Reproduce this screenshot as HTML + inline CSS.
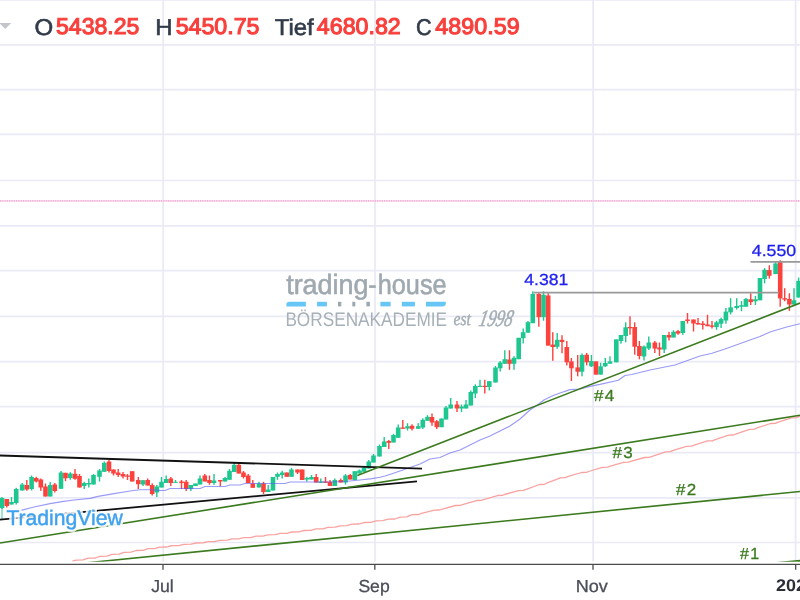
<!DOCTYPE html>
<html><head><meta charset="utf-8"><title>chart</title>
<style>html,body{margin:0;padding:0;background:#fff;overflow:hidden}svg{display:block;will-change:transform}text{font-family:"Liberation Sans",sans-serif;text-rendering:geometricPrecision}</style>
</head><body>
<svg width="800" height="600" viewBox="0 0 800 600">
<rect width="800" height="600" fill="#fff"/>
<g>
<g stroke="#eaeaf7" stroke-width="1.7">
<line x1="0" y1="-0.20" x2="800" y2="-0.20"/>
<line x1="0" y1="44.85" x2="800" y2="44.85"/>
<line x1="0" y1="89.60" x2="800" y2="89.60"/>
<line x1="0" y1="134.40" x2="800" y2="134.40"/>
<line x1="0" y1="180.50" x2="800" y2="180.50"/>
<line x1="0" y1="225.80" x2="800" y2="225.80"/>
<line x1="0" y1="270.65" x2="800" y2="270.65"/>
<line x1="0" y1="316.30" x2="800" y2="316.30"/>
<line x1="0" y1="361.70" x2="800" y2="361.70"/>
<line x1="0" y1="406.60" x2="800" y2="406.60"/>
<line x1="0" y1="452.60" x2="800" y2="452.60"/>
<line x1="0" y1="497.90" x2="800" y2="497.90"/>
<line x1="0" y1="542.50" x2="800" y2="542.50"/>
</g>
<g stroke="#eaeaf7" stroke-width="1.8">
<line x1="163.2" y1="0" x2="163.2" y2="561.7"/>
<line x1="375.0" y1="0" x2="375.0" y2="561.7"/>
<line x1="593.1" y1="0" x2="593.1" y2="561.7"/>
<line x1="795.6" y1="0" x2="795.6" y2="561.7"/>
</g>
<line x1="0" y1="200.9" x2="800" y2="200.9" stroke="#f9dcee" stroke-width="1.9"/>
<line x1="0" y1="200.9" x2="800" y2="200.9" stroke="#f1a4d2" stroke-opacity="0.8" stroke-width="1.9" stroke-dasharray="1.1 1.2"/>
<g id="wm">
<text x="286.18" y="294.1" font-size="28" fill="#9fa9b0" stroke="#9fa9b0" stroke-width="0.6" textLength="82.32" lengthAdjust="spacingAndGlyphs">trading</text>
<text x="368.4" y="294.1" font-size="28" fill="#9fa9b0" stroke="#9fa9b0" stroke-width="0.6" textLength="7.97" lengthAdjust="spacingAndGlyphs">-</text>
<text x="377.69" y="294.1" font-size="28" fill="#9fa9b0" stroke="#9fa9b0" stroke-width="0.6" textLength="68.95" lengthAdjust="spacingAndGlyphs">house</text>
<path d="M286.4,306.40000000000003 V304.40000000000003 Q286.4,301.8 289.4,301.8 H305.9 V306.40000000000003 Z" fill="#66c6f6"/>
<rect x="317.1" y="301.8" width="9.8" height="4.6" fill="#66c6f6"/>
<rect x="338" y="301.8" width="3.3" height="4.6" fill="#9ba8b0"/>
<rect x="352.3" y="301.8" width="3.0" height="4.6" fill="#9ba8b0"/>
<rect x="366.4" y="301.8" width="3.5" height="4.6" fill="#9ba8b0"/>
<rect x="380.4" y="301.8" width="10.2" height="4.6" fill="#66c6f6"/>
<rect x="401.8" y="301.8" width="13.1" height="4.6" fill="#66c6f6"/>
<path d="M426,301.8 H445.8 V303.6 Q445.8,306.40000000000003 442.6,306.40000000000003 H426 Z" fill="#66c6f6"/>
<text x="285.4" y="326.2" font-size="19.8" fill="#a6b0b6" textLength="161.6" lengthAdjust="spacingAndGlyphs">BÖRSENAKADEMIE</text>
<text x="453.5" y="325.3" font-size="19" font-style="italic" fill="#a3adb4" stroke="#a3adb4" stroke-width="0.4" textLength="17.5" lengthAdjust="spacingAndGlyphs" style="font-family:'Liberation Serif',serif">est</text>
<text transform="translate(478,326.2) skewX(-12)" font-size="23.5" font-style="italic" fill="#a3adb4" stroke="#a3adb4" stroke-width="0.55" textLength="33.5" lengthAdjust="spacingAndGlyphs" style="font-family:'Liberation Serif',serif">1998</text>
</g>
<polyline points="72.5,561.2 76.0,560.1 83.0,559.9 84.5,559.4 88.0,558.2 95.0,558.1 96.5,557.5 100.0,556.3 107.0,556.2 108.5,555.6 112.0,554.3 119.0,554.2 120.5,553.6 124.0,552.4 131.0,552.2 132.5,551.6 136.0,550.5 143.0,550.4 144.5,549.8 148.0,548.7 155.0,548.6 156.5,548.0 160.0,547.1 167.0,547.0 168.5,546.5 172.0,545.7 179.0,545.6 180.5,545.2 184.0,544.4 191.0,544.2 192.5,543.8 196.0,543.0 203.0,542.9 204.5,542.5 208.0,541.6 215.0,541.5 216.5,541.1 220.0,540.3 227.0,540.2 228.5,539.8 232.0,538.9 239.0,538.8 240.5,538.4 244.0,537.6 251.0,537.5 252.5,537.1 256.0,536.2 263.0,536.1 264.5,535.7 268.0,534.8 275.0,534.7 276.5,534.3 280.0,533.4 287.0,533.3 288.5,532.9 292.0,532.0 299.0,531.9 300.5,531.4 304.0,530.5 311.0,530.3 312.5,529.9 316.0,528.9 323.0,528.8 324.5,528.3 328.0,527.3 335.0,527.2 336.5,526.8 340.0,525.8 347.0,525.7 348.5,525.2 352.0,524.2 359.0,524.0 360.5,523.5 364.0,522.5 371.0,522.4 372.5,521.9 376.0,520.8 383.0,520.7 384.5,520.2 388.0,519.1 395.0,519.0 396.5,518.5 400.0,517.1 407.0,516.9 408.5,516.2 412.0,514.7 419.0,514.5 420.5,513.7 434.5,510.2 439.5,510.0 441.5,509.3 455.5,505.5 460.5,505.3 462.5,504.5 476.5,500.5 481.5,500.3 483.5,499.5 497.5,495.5 502.5,495.3 504.5,494.5 518.5,490.6 523.5,490.4 525.5,489.6 539.5,484.5 544.5,484.3 546.5,483.2 560.5,477.9 565.5,477.7 567.5,476.6 581.5,472.5 586.5,472.3 588.5,471.5 602.5,467.4 607.5,467.2 609.5,466.3 623.5,462.3 628.5,462.1 630.5,461.3 644.5,457.5 649.5,457.4 651.5,456.6 665.5,451.9 670.5,451.7 672.5,450.7 686.5,446.4 691.5,446.2 693.5,445.3 707.5,440.9 712.5,440.8 714.5,439.8 728.5,435.2 733.5,435.0 735.5,434.1 749.5,429.4 754.5,429.2 756.5,428.2 770.5,423.5 775.5,423.3 777.5,422.3 791.5,417.8 796.5,417.6 798.5,416.6 812.5,416.3 817.5,416.3 800.0,416.2" fill="none" stroke="#f9a3a0" stroke-width="1.3" stroke-linejoin="round"/>
<g id="candles">
<rect x="1.3" y="497.0" width="1.4" height="12.0" fill="#1ec690"/>
<rect x="-0.3" y="498.0" width="4.6" height="10.0" fill="#1ec690"/>
<rect x="6.1" y="499.0" width="1.4" height="8.5" fill="#fd413d"/>
<rect x="4.5" y="499.0" width="4.6" height="7.0" fill="#fd413d"/>
<rect x="10.8" y="497.0" width="1.4" height="7.5" fill="#1ec690"/>
<rect x="9.2" y="502.0" width="4.6" height="2.5" fill="#1ec690"/>
<rect x="15.5" y="487.8" width="1.4" height="16.7" fill="#1ec690"/>
<rect x="13.9" y="489.0" width="4.6" height="14.0" fill="#1ec690"/>
<rect x="21.5" y="483.0" width="1.4" height="7.5" fill="#1ec690"/>
<rect x="19.9" y="484.5" width="4.6" height="6.0" fill="#1ec690"/>
<rect x="26.1" y="480.0" width="1.4" height="10.8" fill="#fd413d"/>
<rect x="24.5" y="485.0" width="4.6" height="4.5" fill="#fd413d"/>
<rect x="30.9" y="475.5" width="1.4" height="15.0" fill="#1ec690"/>
<rect x="29.3" y="477.0" width="4.6" height="12.0" fill="#1ec690"/>
<rect x="35.5" y="476.8" width="1.4" height="5.7" fill="#fd413d"/>
<rect x="33.9" y="478.0" width="4.6" height="3.5" fill="#fd413d"/>
<rect x="40.1" y="478.5" width="1.4" height="12.3" fill="#fd413d"/>
<rect x="38.5" y="479.5" width="4.6" height="8.0" fill="#fd413d"/>
<rect x="44.8" y="483.5" width="1.4" height="13.0" fill="#fd413d"/>
<rect x="43.2" y="486.5" width="4.6" height="10.0" fill="#fd413d"/>
<rect x="49.5" y="482.0" width="1.4" height="14.5" fill="#1ec690"/>
<rect x="47.9" y="485.0" width="4.6" height="11.5" fill="#1ec690"/>
<rect x="54.1" y="483.0" width="1.4" height="9.5" fill="#fd413d"/>
<rect x="52.5" y="484.5" width="4.6" height="6.5" fill="#fd413d"/>
<rect x="60.3" y="471.0" width="1.4" height="17.8" fill="#1ec690"/>
<rect x="58.7" y="472.5" width="4.6" height="16.3" fill="#1ec690"/>
<rect x="64.8" y="472.8" width="1.4" height="8.4" fill="#fd413d"/>
<rect x="63.2" y="472.8" width="4.6" height="5.5" fill="#fd413d"/>
<rect x="69.6" y="472.2" width="1.4" height="7.6" fill="#1ec690"/>
<rect x="68.0" y="473.5" width="4.6" height="4.5" fill="#1ec690"/>
<rect x="74.3" y="469.1" width="1.4" height="10.7" fill="#fd413d"/>
<rect x="72.7" y="473.8" width="4.6" height="5.0" fill="#fd413d"/>
<rect x="78.8" y="474.0" width="1.4" height="13.5" fill="#fd413d"/>
<rect x="77.2" y="476.0" width="4.6" height="11.5" fill="#fd413d"/>
<rect x="83.5" y="481.8" width="1.4" height="7.2" fill="#1ec690"/>
<rect x="81.9" y="483.0" width="4.6" height="3.0" fill="#1ec690"/>
<rect x="88.1" y="478.5" width="1.4" height="9.0" fill="#1ec690"/>
<rect x="86.5" y="483.0" width="4.6" height="1.5" fill="#1ec690"/>
<rect x="92.8" y="474.0" width="1.4" height="10.5" fill="#1ec690"/>
<rect x="91.2" y="475.0" width="4.6" height="9.5" fill="#1ec690"/>
<rect x="98.8" y="469.0" width="1.4" height="12.5" fill="#1ec690"/>
<rect x="97.2" y="470.5" width="4.6" height="6.3" fill="#1ec690"/>
<rect x="103.6" y="461.5" width="1.4" height="10.3" fill="#1ec690"/>
<rect x="102.0" y="462.8" width="4.6" height="9.0" fill="#1ec690"/>
<rect x="108.3" y="460.0" width="1.4" height="12.5" fill="#fd413d"/>
<rect x="106.7" y="461.5" width="4.6" height="9.5" fill="#fd413d"/>
<rect x="112.8" y="469.5" width="1.4" height="6.0" fill="#fd413d"/>
<rect x="111.2" y="469.5" width="4.6" height="4.0" fill="#fd413d"/>
<rect x="117.5" y="469.0" width="1.4" height="8.0" fill="#fd413d"/>
<rect x="115.9" y="472.5" width="4.6" height="2.5" fill="#fd413d"/>
<rect x="122.3" y="472.0" width="1.4" height="6.5" fill="#fd413d"/>
<rect x="120.7" y="474.0" width="4.6" height="2.5" fill="#fd413d"/>
<rect x="126.8" y="474.0" width="1.4" height="6.0" fill="#fd413d"/>
<rect x="125.2" y="475.5" width="4.6" height="1.3" fill="#fd413d"/>
<rect x="131.5" y="471.2" width="1.4" height="10.3" fill="#fd413d"/>
<rect x="129.9" y="471.2" width="4.6" height="10.3" fill="#fd413d"/>
<rect x="137.6" y="477.0" width="1.4" height="12.0" fill="#fd413d"/>
<rect x="136.0" y="480.0" width="4.6" height="4.2" fill="#fd413d"/>
<rect x="142.3" y="480.2" width="1.4" height="5.8" fill="#1ec690"/>
<rect x="140.7" y="480.2" width="4.6" height="4.3" fill="#1ec690"/>
<rect x="147.0" y="478.5" width="1.4" height="7.0" fill="#fd413d"/>
<rect x="145.4" y="480.0" width="4.6" height="5.5" fill="#fd413d"/>
<rect x="151.5" y="483.3" width="1.4" height="12.2" fill="#fd413d"/>
<rect x="149.9" y="485.0" width="4.6" height="9.0" fill="#fd413d"/>
<rect x="156.1" y="485.0" width="1.4" height="12.0" fill="#1ec690"/>
<rect x="154.5" y="486.5" width="4.6" height="6.0" fill="#1ec690"/>
<rect x="160.8" y="477.0" width="1.4" height="10.5" fill="#1ec690"/>
<rect x="159.2" y="481.8" width="4.6" height="5.7" fill="#1ec690"/>
<rect x="165.5" y="475.5" width="1.4" height="7.5" fill="#1ec690"/>
<rect x="163.9" y="479.0" width="4.6" height="4.0" fill="#1ec690"/>
<rect x="170.1" y="477.0" width="1.4" height="9.0" fill="#fd413d"/>
<rect x="168.5" y="478.5" width="4.6" height="4.5" fill="#fd413d"/>
<rect x="174.8" y="480.0" width="1.4" height="2.8" fill="#1ec690"/>
<rect x="173.2" y="481.8" width="4.6" height="1.0" fill="#1ec690"/>
<rect x="180.8" y="480.0" width="1.4" height="9.0" fill="#fd413d"/>
<rect x="179.2" y="481.5" width="4.6" height="1.5" fill="#fd413d"/>
<rect x="185.5" y="480.0" width="1.4" height="11.0" fill="#fd413d"/>
<rect x="183.9" y="481.8" width="4.6" height="7.2" fill="#fd413d"/>
<rect x="190.1" y="485.0" width="1.4" height="6.0" fill="#1ec690"/>
<rect x="188.5" y="485.0" width="4.6" height="4.0" fill="#1ec690"/>
<rect x="194.8" y="483.5" width="1.4" height="2.5" fill="#1ec690"/>
<rect x="193.2" y="483.5" width="4.6" height="2.5" fill="#1ec690"/>
<rect x="199.3" y="475.5" width="1.4" height="9.0" fill="#1ec690"/>
<rect x="197.7" y="478.5" width="4.6" height="6.0" fill="#1ec690"/>
<rect x="204.1" y="474.0" width="1.4" height="7.5" fill="#fd413d"/>
<rect x="202.5" y="475.5" width="4.6" height="6.0" fill="#fd413d"/>
<rect x="208.8" y="475.5" width="1.4" height="9.3" fill="#fd413d"/>
<rect x="207.2" y="480.0" width="4.6" height="3.0" fill="#fd413d"/>
<rect x="213.3" y="474.0" width="1.4" height="10.8" fill="#1ec690"/>
<rect x="211.7" y="480.5" width="4.6" height="2.5" fill="#1ec690"/>
<rect x="219.6" y="480.0" width="1.4" height="6.0" fill="#fd413d"/>
<rect x="218.0" y="480.0" width="4.6" height="1.5" fill="#fd413d"/>
<rect x="224.3" y="477.0" width="1.4" height="4.5" fill="#1ec690"/>
<rect x="222.7" y="478.0" width="4.6" height="3.5" fill="#1ec690"/>
<rect x="228.8" y="469.0" width="1.4" height="10.8" fill="#1ec690"/>
<rect x="227.2" y="470.8" width="4.6" height="9.0" fill="#1ec690"/>
<rect x="233.5" y="463.0" width="1.4" height="9.0" fill="#1ec690"/>
<rect x="231.9" y="464.8" width="4.6" height="7.2" fill="#1ec690"/>
<rect x="238.1" y="463.0" width="1.4" height="10.5" fill="#fd413d"/>
<rect x="236.5" y="464.8" width="4.6" height="8.7" fill="#fd413d"/>
<rect x="242.8" y="471.0" width="1.4" height="7.5" fill="#fd413d"/>
<rect x="241.2" y="472.5" width="4.6" height="4.5" fill="#fd413d"/>
<rect x="247.5" y="474.0" width="1.4" height="9.0" fill="#fd413d"/>
<rect x="245.9" y="475.5" width="4.6" height="7.5" fill="#fd413d"/>
<rect x="252.1" y="480.0" width="1.4" height="7.8" fill="#fd413d"/>
<rect x="250.5" y="483.5" width="4.6" height="4.3" fill="#fd413d"/>
<rect x="258.3" y="481.8" width="1.4" height="5.7" fill="#1ec690"/>
<rect x="256.7" y="483.5" width="4.6" height="4.0" fill="#1ec690"/>
<rect x="262.8" y="481.8" width="1.4" height="12.2" fill="#fd413d"/>
<rect x="261.2" y="483.5" width="4.6" height="8.5" fill="#fd413d"/>
<rect x="267.5" y="485.0" width="1.4" height="7.0" fill="#1ec690"/>
<rect x="265.9" y="489.5" width="4.6" height="2.5" fill="#1ec690"/>
<rect x="272.3" y="477.0" width="1.4" height="13.5" fill="#1ec690"/>
<rect x="270.7" y="477.0" width="4.6" height="13.5" fill="#1ec690"/>
<rect x="276.8" y="472.5" width="1.4" height="7.3" fill="#1ec690"/>
<rect x="275.2" y="474.0" width="4.6" height="2.8" fill="#1ec690"/>
<rect x="281.5" y="470.8" width="1.4" height="7.7" fill="#1ec690"/>
<rect x="279.9" y="472.5" width="4.6" height="2.5" fill="#1ec690"/>
<rect x="286.1" y="472.5" width="1.4" height="4.3" fill="#fd413d"/>
<rect x="284.5" y="472.5" width="4.6" height="4.3" fill="#fd413d"/>
<rect x="290.8" y="467.8" width="1.4" height="9.0" fill="#1ec690"/>
<rect x="289.2" y="469.5" width="4.6" height="7.3" fill="#1ec690"/>
<rect x="296.8" y="469.5" width="1.4" height="4.5" fill="#fd413d"/>
<rect x="295.2" y="469.5" width="4.6" height="3.0" fill="#fd413d"/>
<rect x="301.5" y="469.5" width="1.4" height="10.5" fill="#fd413d"/>
<rect x="299.9" y="469.5" width="4.6" height="10.5" fill="#fd413d"/>
<rect x="306.1" y="476.8" width="1.4" height="4.7" fill="#1ec690"/>
<rect x="304.5" y="478.0" width="4.6" height="1.5" fill="#1ec690"/>
<rect x="310.8" y="475.0" width="1.4" height="4.5" fill="#1ec690"/>
<rect x="309.2" y="477.0" width="4.6" height="2.5" fill="#1ec690"/>
<rect x="315.5" y="474.0" width="1.4" height="8.5" fill="#fd413d"/>
<rect x="313.9" y="477.0" width="4.6" height="5.5" fill="#fd413d"/>
<rect x="320.1" y="478.5" width="1.4" height="4.3" fill="#1ec690"/>
<rect x="318.5" y="481.5" width="4.6" height="1.3" fill="#1ec690"/>
<rect x="324.8" y="477.0" width="1.4" height="5.8" fill="#fd413d"/>
<rect x="323.2" y="481.5" width="4.6" height="1.3" fill="#fd413d"/>
<rect x="329.3" y="480.0" width="1.4" height="6.0" fill="#fd413d"/>
<rect x="327.7" y="481.8" width="4.6" height="4.2" fill="#fd413d"/>
<rect x="334.1" y="478.5" width="1.4" height="7.5" fill="#1ec690"/>
<rect x="332.5" y="480.0" width="4.6" height="6.0" fill="#1ec690"/>
<rect x="340.1" y="478.5" width="1.4" height="4.0" fill="#fd413d"/>
<rect x="338.5" y="480.0" width="4.6" height="2.5" fill="#fd413d"/>
<rect x="344.8" y="474.0" width="1.4" height="10.5" fill="#1ec690"/>
<rect x="343.2" y="475.5" width="4.6" height="7.0" fill="#1ec690"/>
<rect x="349.5" y="474.0" width="1.4" height="5.5" fill="#fd413d"/>
<rect x="347.9" y="475.0" width="4.6" height="4.5" fill="#fd413d"/>
<rect x="354.1" y="471.2" width="1.4" height="8.8" fill="#1ec690"/>
<rect x="352.5" y="471.2" width="4.6" height="8.8" fill="#1ec690"/>
<rect x="358.8" y="469.5" width="1.4" height="4.0" fill="#1ec690"/>
<rect x="357.2" y="470.5" width="4.6" height="3.0" fill="#1ec690"/>
<rect x="363.3" y="466.2" width="1.4" height="5.6" fill="#1ec690"/>
<rect x="361.7" y="467.5" width="4.6" height="4.3" fill="#1ec690"/>
<rect x="368.1" y="460.0" width="1.4" height="8.5" fill="#1ec690"/>
<rect x="366.5" y="461.5" width="4.6" height="7.0" fill="#1ec690"/>
<rect x="372.8" y="454.0" width="1.4" height="8.5" fill="#1ec690"/>
<rect x="371.2" y="455.5" width="4.6" height="7.0" fill="#1ec690"/>
<rect x="378.8" y="444.5" width="1.4" height="12.0" fill="#1ec690"/>
<rect x="377.2" y="446.0" width="4.6" height="10.5" fill="#1ec690"/>
<rect x="383.5" y="437.0" width="1.4" height="10.0" fill="#1ec690"/>
<rect x="381.9" y="441.5" width="4.6" height="5.5" fill="#1ec690"/>
<rect x="388.1" y="440.0" width="1.4" height="9.0" fill="#fd413d"/>
<rect x="386.5" y="441.0" width="4.6" height="1.8" fill="#fd413d"/>
<rect x="392.8" y="433.8" width="1.4" height="8.7" fill="#1ec690"/>
<rect x="391.2" y="435.0" width="4.6" height="7.5" fill="#1ec690"/>
<rect x="397.5" y="424.5" width="1.4" height="13.3" fill="#1ec690"/>
<rect x="395.9" y="427.5" width="4.6" height="10.3" fill="#1ec690"/>
<rect x="402.1" y="420.0" width="1.4" height="8.8" fill="#fd413d"/>
<rect x="400.5" y="427.5" width="4.6" height="1.3" fill="#fd413d"/>
<rect x="406.8" y="423.2" width="1.4" height="7.3" fill="#1ec690"/>
<rect x="405.2" y="426.2" width="4.6" height="2.3" fill="#1ec690"/>
<rect x="411.3" y="424.3" width="1.4" height="6.2" fill="#fd413d"/>
<rect x="409.7" y="425.8" width="4.6" height="3.0" fill="#fd413d"/>
<rect x="417.5" y="423.2" width="1.4" height="5.6" fill="#1ec690"/>
<rect x="415.9" y="426.2" width="4.6" height="2.6" fill="#1ec690"/>
<rect x="422.1" y="418.3" width="1.4" height="10.7" fill="#1ec690"/>
<rect x="420.5" y="419.8" width="4.6" height="7.7" fill="#1ec690"/>
<rect x="426.8" y="415.2" width="1.4" height="5.6" fill="#1ec690"/>
<rect x="425.2" y="416.8" width="4.6" height="4.0" fill="#1ec690"/>
<rect x="431.3" y="413.5" width="1.4" height="12.3" fill="#fd413d"/>
<rect x="429.7" y="417.0" width="4.6" height="5.5" fill="#fd413d"/>
<rect x="436.1" y="420.0" width="1.4" height="9.0" fill="#fd413d"/>
<rect x="434.5" y="421.2" width="4.6" height="6.0" fill="#fd413d"/>
<rect x="440.8" y="418.5" width="1.4" height="8.7" fill="#1ec690"/>
<rect x="439.2" y="418.5" width="4.6" height="8.7" fill="#1ec690"/>
<rect x="445.3" y="406.0" width="1.4" height="13.5" fill="#1ec690"/>
<rect x="443.7" y="407.5" width="4.6" height="12.0" fill="#1ec690"/>
<rect x="450.0" y="398.0" width="1.4" height="10.5" fill="#1ec690"/>
<rect x="448.4" y="404.5" width="4.6" height="4.0" fill="#1ec690"/>
<rect x="456.3" y="401.0" width="1.4" height="11.0" fill="#fd413d"/>
<rect x="454.7" y="404.5" width="4.6" height="4.0" fill="#fd413d"/>
<rect x="460.8" y="404.5" width="1.4" height="7.5" fill="#1ec690"/>
<rect x="459.2" y="406.5" width="4.6" height="2.0" fill="#1ec690"/>
<rect x="465.3" y="400.0" width="1.4" height="8.5" fill="#1ec690"/>
<rect x="463.7" y="404.5" width="4.6" height="4.0" fill="#1ec690"/>
<rect x="470.1" y="390.5" width="1.4" height="15.0" fill="#1ec690"/>
<rect x="468.5" y="392.0" width="4.6" height="13.5" fill="#1ec690"/>
<rect x="474.6" y="384.3" width="1.4" height="13.7" fill="#1ec690"/>
<rect x="473.0" y="386.0" width="4.6" height="7.5" fill="#1ec690"/>
<rect x="479.3" y="379.8" width="1.4" height="7.2" fill="#1ec690"/>
<rect x="477.7" y="385.8" width="4.6" height="1.2" fill="#1ec690"/>
<rect x="484.1" y="379.8" width="1.4" height="13.7" fill="#fd413d"/>
<rect x="482.5" y="385.8" width="4.6" height="1.2" fill="#fd413d"/>
<rect x="488.6" y="381.2" width="1.4" height="9.3" fill="#1ec690"/>
<rect x="487.0" y="381.2" width="4.6" height="5.8" fill="#1ec690"/>
<rect x="494.8" y="366.0" width="1.4" height="16.5" fill="#1ec690"/>
<rect x="493.2" y="367.5" width="4.6" height="15.0" fill="#1ec690"/>
<rect x="499.5" y="361.0" width="1.4" height="10.5" fill="#1ec690"/>
<rect x="497.9" y="362.5" width="4.6" height="5.8" fill="#1ec690"/>
<rect x="504.1" y="350.2" width="1.4" height="13.6" fill="#1ec690"/>
<rect x="502.5" y="359.2" width="4.6" height="4.6" fill="#1ec690"/>
<rect x="508.8" y="350.2" width="1.4" height="19.6" fill="#fd413d"/>
<rect x="507.2" y="359.5" width="4.6" height="4.3" fill="#fd413d"/>
<rect x="513.3" y="356.2" width="1.4" height="13.6" fill="#1ec690"/>
<rect x="511.7" y="357.8" width="4.6" height="6.0" fill="#1ec690"/>
<rect x="518.0" y="337.8" width="1.4" height="21.4" fill="#1ec690"/>
<rect x="516.4" y="337.8" width="4.6" height="21.4" fill="#1ec690"/>
<rect x="522.5" y="328.5" width="1.4" height="15.0" fill="#1ec690"/>
<rect x="520.9" y="332.2" width="4.6" height="6.0" fill="#1ec690"/>
<rect x="527.3" y="321.0" width="1.4" height="11.7" fill="#1ec690"/>
<rect x="525.7" y="322.2" width="4.6" height="10.5" fill="#1ec690"/>
<rect x="532.1" y="291.3" width="1.4" height="31.9" fill="#1ec690"/>
<rect x="530.5" y="294.0" width="4.6" height="29.2" fill="#1ec690"/>
<rect x="538.1" y="292.5" width="1.4" height="34.2" fill="#fd413d"/>
<rect x="536.5" y="294.0" width="4.6" height="23.2" fill="#fd413d"/>
<rect x="542.8" y="291.3" width="1.4" height="29.4" fill="#1ec690"/>
<rect x="541.2" y="294.8" width="4.6" height="22.4" fill="#1ec690"/>
<rect x="547.5" y="293.2" width="1.4" height="52.4" fill="#fd413d"/>
<rect x="545.9" y="295.5" width="4.6" height="50.1" fill="#fd413d"/>
<rect x="552.1" y="332.2" width="1.4" height="28.6" fill="#fd413d"/>
<rect x="550.5" y="344.6" width="4.6" height="2.4" fill="#fd413d"/>
<rect x="556.5" y="333.0" width="1.4" height="15.8" fill="#1ec690"/>
<rect x="554.9" y="339.8" width="4.6" height="7.0" fill="#1ec690"/>
<rect x="561.3" y="335.2" width="1.4" height="18.0" fill="#fd413d"/>
<rect x="559.7" y="339.8" width="4.6" height="2.2" fill="#fd413d"/>
<rect x="566.1" y="341.0" width="1.4" height="24.4" fill="#fd413d"/>
<rect x="564.5" y="347.0" width="4.6" height="15.3" fill="#fd413d"/>
<rect x="570.7" y="358.0" width="1.4" height="23.0" fill="#fd413d"/>
<rect x="569.1" y="361.4" width="4.6" height="6.9" fill="#fd413d"/>
<rect x="577.0" y="355.0" width="1.4" height="21.3" fill="#fd413d"/>
<rect x="575.4" y="367.4" width="4.6" height="4.3" fill="#fd413d"/>
<rect x="581.3" y="353.4" width="1.4" height="22.9" fill="#1ec690"/>
<rect x="579.7" y="355.0" width="4.6" height="16.7" fill="#1ec690"/>
<rect x="586.0" y="353.0" width="1.4" height="12.4" fill="#fd413d"/>
<rect x="584.4" y="354.7" width="4.6" height="7.6" fill="#fd413d"/>
<rect x="590.7" y="355.0" width="1.4" height="12.0" fill="#1ec690"/>
<rect x="589.1" y="361.0" width="4.6" height="5.3" fill="#1ec690"/>
<rect x="595.3" y="361.4" width="1.4" height="13.2" fill="#fd413d"/>
<rect x="593.7" y="361.4" width="4.6" height="13.2" fill="#fd413d"/>
<rect x="599.9" y="362.7" width="1.4" height="11.9" fill="#1ec690"/>
<rect x="598.3" y="366.3" width="4.6" height="8.3" fill="#1ec690"/>
<rect x="604.6" y="358.0" width="1.4" height="9.0" fill="#1ec690"/>
<rect x="603.0" y="363.0" width="4.6" height="3.3" fill="#1ec690"/>
<rect x="609.3" y="356.3" width="1.4" height="7.4" fill="#1ec690"/>
<rect x="607.7" y="361.4" width="4.6" height="2.3" fill="#1ec690"/>
<rect x="615.6" y="339.4" width="1.4" height="22.9" fill="#1ec690"/>
<rect x="614.0" y="339.4" width="4.6" height="22.9" fill="#1ec690"/>
<rect x="620.3" y="335.0" width="1.4" height="8.7" fill="#1ec690"/>
<rect x="618.7" y="335.0" width="4.6" height="6.0" fill="#1ec690"/>
<rect x="625.0" y="322.3" width="1.4" height="20.0" fill="#1ec690"/>
<rect x="623.4" y="327.3" width="4.6" height="8.7" fill="#1ec690"/>
<rect x="629.3" y="316.3" width="1.4" height="18.4" fill="#fd413d"/>
<rect x="627.7" y="327.0" width="4.6" height="1.3" fill="#fd413d"/>
<rect x="634.0" y="322.3" width="1.4" height="32.4" fill="#fd413d"/>
<rect x="632.4" y="327.0" width="4.6" height="19.7" fill="#fd413d"/>
<rect x="638.7" y="341.0" width="1.4" height="18.3" fill="#fd413d"/>
<rect x="637.1" y="346.0" width="4.6" height="10.0" fill="#fd413d"/>
<rect x="643.3" y="345.5" width="1.4" height="15.0" fill="#1ec690"/>
<rect x="641.7" y="346.5" width="4.6" height="10.0" fill="#1ec690"/>
<rect x="648.1" y="336.5" width="1.4" height="13.5" fill="#1ec690"/>
<rect x="646.5" y="342.5" width="4.6" height="6.0" fill="#1ec690"/>
<rect x="654.1" y="341.0" width="1.4" height="12.0" fill="#fd413d"/>
<rect x="652.5" y="342.5" width="4.6" height="6.0" fill="#fd413d"/>
<rect x="658.8" y="342.5" width="1.4" height="13.5" fill="#fd413d"/>
<rect x="657.2" y="347.5" width="4.6" height="2.0" fill="#fd413d"/>
<rect x="663.5" y="335.0" width="1.4" height="18.0" fill="#1ec690"/>
<rect x="661.9" y="335.0" width="4.6" height="14.5" fill="#1ec690"/>
<rect x="668.3" y="331.8" width="1.4" height="8.7" fill="#fd413d"/>
<rect x="666.7" y="335.0" width="4.6" height="2.5" fill="#fd413d"/>
<rect x="672.8" y="330.2" width="1.4" height="7.3" fill="#1ec690"/>
<rect x="671.2" y="331.8" width="4.6" height="5.7" fill="#1ec690"/>
<rect x="677.3" y="330.0" width="1.4" height="4.8" fill="#fd413d"/>
<rect x="675.7" y="331.2" width="4.6" height="2.3" fill="#fd413d"/>
<rect x="682.1" y="321.0" width="1.4" height="13.8" fill="#1ec690"/>
<rect x="680.5" y="321.0" width="4.6" height="12.0" fill="#1ec690"/>
<rect x="686.8" y="313.0" width="1.4" height="10.5" fill="#fd413d"/>
<rect x="685.2" y="319.5" width="4.6" height="1.5" fill="#fd413d"/>
<rect x="692.8" y="319.5" width="1.4" height="12.0" fill="#fd413d"/>
<rect x="691.2" y="319.5" width="4.6" height="4.0" fill="#fd413d"/>
<rect x="697.3" y="318.0" width="1.4" height="6.5" fill="#fd413d"/>
<rect x="695.7" y="323.0" width="4.6" height="1.5" fill="#fd413d"/>
<rect x="702.1" y="321.0" width="1.4" height="8.5" fill="#fd413d"/>
<rect x="700.5" y="323.5" width="4.6" height="1.5" fill="#fd413d"/>
<rect x="706.8" y="314.8" width="1.4" height="11.4" fill="#fd413d"/>
<rect x="705.2" y="324.5" width="4.6" height="1.7" fill="#fd413d"/>
<rect x="711.3" y="321.0" width="1.4" height="7.5" fill="#fd413d"/>
<rect x="709.7" y="325.5" width="4.6" height="1.3" fill="#fd413d"/>
<rect x="715.8" y="320.8" width="1.4" height="9.0" fill="#1ec690"/>
<rect x="714.2" y="322.3" width="4.6" height="4.8" fill="#1ec690"/>
<rect x="720.4" y="317.7" width="1.4" height="10.3" fill="#1ec690"/>
<rect x="718.8" y="319.1" width="4.6" height="4.6" fill="#1ec690"/>
<rect x="725.2" y="308.0" width="1.4" height="15.7" fill="#1ec690"/>
<rect x="723.6" y="311.6" width="4.6" height="8.9" fill="#1ec690"/>
<rect x="729.9" y="298.2" width="1.4" height="16.3" fill="#1ec690"/>
<rect x="728.3" y="307.4" width="4.6" height="4.9" fill="#1ec690"/>
<rect x="736.0" y="298.2" width="1.4" height="11.3" fill="#1ec690"/>
<rect x="734.4" y="306.0" width="4.6" height="2.0" fill="#1ec690"/>
<rect x="740.8" y="301.0" width="1.4" height="10.2" fill="#1ec690"/>
<rect x="739.2" y="305.2" width="4.6" height="1.5" fill="#1ec690"/>
<rect x="745.2" y="297.9" width="1.4" height="8.8" fill="#1ec690"/>
<rect x="743.6" y="298.9" width="4.6" height="7.8" fill="#1ec690"/>
<rect x="750.0" y="293.2" width="1.4" height="11.8" fill="#fd413d"/>
<rect x="748.4" y="299.3" width="4.6" height="2.8" fill="#fd413d"/>
<rect x="754.7" y="296.0" width="1.4" height="9.0" fill="#1ec690"/>
<rect x="753.1" y="299.3" width="4.6" height="2.0" fill="#1ec690"/>
<rect x="759.3" y="278.0" width="1.4" height="22.3" fill="#1ec690"/>
<rect x="757.7" y="278.0" width="4.6" height="22.3" fill="#1ec690"/>
<rect x="763.9" y="268.1" width="1.4" height="15.2" fill="#1ec690"/>
<rect x="762.3" y="269.8" width="4.6" height="9.2" fill="#1ec690"/>
<rect x="768.6" y="265.3" width="1.4" height="13.3" fill="#fd413d"/>
<rect x="767.0" y="270.1" width="4.6" height="5.7" fill="#fd413d"/>
<rect x="774.9" y="262.0" width="1.4" height="12.1" fill="#1ec690"/>
<rect x="773.3" y="263.5" width="4.6" height="10.6" fill="#1ec690"/>
<rect x="779.5" y="260.2" width="1.4" height="46.5" fill="#fd413d"/>
<rect x="777.9" y="262.0" width="4.6" height="36.4" fill="#fd413d"/>
<rect x="784.0" y="288.2" width="1.4" height="13.1" fill="#fd413d"/>
<rect x="782.4" y="298.2" width="4.6" height="1.4" fill="#fd413d"/>
<rect x="788.7" y="293.2" width="1.4" height="17.7" fill="#fd413d"/>
<rect x="787.1" y="298.9" width="4.6" height="5.6" fill="#fd413d"/>
<rect x="793.3" y="288.2" width="1.4" height="16.3" fill="#1ec690"/>
<rect x="791.7" y="300.3" width="4.6" height="4.2" fill="#1ec690"/>
<rect x="797.9" y="277.6" width="1.4" height="19.9" fill="#1ec690"/>
<rect x="796.3" y="280.9" width="4.6" height="16.6" fill="#1ec690"/>
<rect x="1.5" y="508" width="1" height="12" fill="#1ec690" opacity="0.85"/>
<rect x="6.3" y="507" width="1" height="7" fill="#fd413d" opacity="0.3"/>
</g>
<polyline points="19.0,510.9 21.0,510.4 34.0,507.0 50.0,503.6 62.0,501.6 74.0,500.0 90.0,498.4 98.0,496.4 114.0,493.6 130.0,491.0 140.0,489.7 150.0,489.8 160.0,490.4 165.0,490.5 170.0,488.5 200.0,488.5 205.0,486.5 225.0,486.5 230.0,485.0 240.0,485.0 245.0,483.5 285.0,483.5 290.0,482.0 330.0,482.0 345.0,481.5 360.0,480.0 372.0,478.6 380.0,477.2 385.0,476.0 392.0,473.7 400.0,471.0 420.0,464.0 430.0,459.0 440.0,457.5 450.0,453.0 460.0,450.0 470.0,445.0 480.0,440.0 490.0,436.0 500.0,431.0 510.0,426.0 520.0,419.0 530.0,410.0 536.0,406.0 544.0,400.0 552.0,396.0 560.0,393.0 570.0,389.6 580.0,389.0 590.0,386.4 600.0,384.4 618.3,380.3 625.0,375.5 631.7,374.5 650.0,370.0 675.0,365.0 700.0,356.0 712.0,353.3 725.0,349.0 750.0,340.0 760.0,336.5 770.0,332.0 787.5,326.8 800.0,323.7" fill="none" stroke="#5c5cf2" stroke-opacity="0.62" stroke-width="1.15" stroke-linejoin="round"/>
<line x1="0" y1="455.5" x2="422" y2="468.7" stroke="#111" stroke-width="1.8"/>
<line x1="0" y1="519.7" x2="417" y2="481.3" stroke="#111" stroke-width="1.8"/>
<line x1="533.5" y1="292.55" x2="779" y2="292.55" stroke="#999" stroke-width="1.7"/>
<line x1="750.5" y1="261.85" x2="800" y2="261.85" stroke="#999" stroke-width="1.7"/>
<line x1="357.3" y1="475.4" x2="800" y2="303.1" stroke="#3b7a1e" stroke-width="1.6"/>
<line x1="0" y1="543.0" x2="800" y2="415.3" stroke="#3b7a1e" stroke-width="1.6"/>
<line x1="70" y1="564.5" x2="800" y2="491.5" stroke="#3b7a1e" stroke-width="1.6"/>
<polygon points="776.4,562 800,559.7 800,562" fill="#3b7a1e"/>
<text x="524.3" y="285.1" font-size="16" fill="#1f1ff0" textLength="44.0" lengthAdjust="spacingAndGlyphs" stroke="#1f1ff0" stroke-width="0.3">4.381</text>
<text x="751.8" y="256.2" font-size="16" fill="#1f1ff0" textLength="44.3" lengthAdjust="spacingAndGlyphs" stroke="#1f1ff0" stroke-width="0.3">4.550</text>
<text x="593.9" y="401.2" font-size="16" fill="#3b7a1e" textLength="20.4" lengthAdjust="spacingAndGlyphs" stroke="#3b7a1e" stroke-width="0.3">#&#8202;4</text>
<text x="612.5" y="458.2" font-size="16" fill="#3b7a1e" textLength="20.3" lengthAdjust="spacingAndGlyphs" stroke="#3b7a1e" stroke-width="0.3">#&#8202;3</text>
<text x="675.9" y="495.1" font-size="16" fill="#3b7a1e" textLength="20.2" lengthAdjust="spacingAndGlyphs" stroke="#3b7a1e" stroke-width="0.3">#&#8202;2</text>
<text x="739.9" y="559.3" font-size="16" fill="#3b7a1e" textLength="19.2" lengthAdjust="spacingAndGlyphs" stroke="#3b7a1e" stroke-width="0.3">#&#8202;1</text>
<text x="6.44" y="525.4" font-size="21.2" fill="#fff" stroke="#fff" stroke-opacity="0.85" stroke-width="5.4" stroke-linejoin="round" paint-order="stroke" textLength="116.33" lengthAdjust="spacingAndGlyphs">TradingView</text>
<text x="6.44" y="524.7" font-size="21.2" fill="#3fa2ee" stroke="#3fa2ee" stroke-width="0.45" textLength="116.33" lengthAdjust="spacingAndGlyphs">TradingView</text>
<rect x="0" y="561.7" width="800" height="39" fill="#fff"/>
<line x1="0" y1="564.4" x2="800" y2="564.4" stroke="#4b4b4e" stroke-width="1.4"/>
<line x1="163" y1="564.4" x2="163" y2="569.7" stroke="#4b4b4e" stroke-width="1.3"/>
<line x1="374.8" y1="564.4" x2="374.8" y2="569.7" stroke="#4b4b4e" stroke-width="1.3"/>
<line x1="593" y1="564.4" x2="593" y2="569.7" stroke="#4b4b4e" stroke-width="1.3"/>
<line x1="795.7" y1="564.4" x2="795.7" y2="569.7" stroke="#4b4b4e" stroke-width="1.3"/>
<text x="151.2" y="591.5" font-size="17.4" fill="#4a4e59" textLength="22.6" lengthAdjust="spacingAndGlyphs" stroke="#4a4e59" stroke-width="0.3">Jul</text>
<text x="358.4" y="591.5" font-size="17.4" fill="#4a4e59" textLength="31.3" lengthAdjust="spacingAndGlyphs" stroke="#4a4e59" stroke-width="0.3">Sep</text>
<text x="575.7" y="591.5" font-size="17.4" fill="#4a4e59" textLength="32.1" lengthAdjust="spacingAndGlyphs" stroke="#4a4e59" stroke-width="0.3">Nov</text>
<text x="776.0" y="591.3" font-size="17" fill="#2a2e39" font-weight="bold" textLength="40" lengthAdjust="spacingAndGlyphs">2024</text>
<polygon points="-0.7,23 11.2,23 5.25,29.1" fill="#c2c5ca"/>
<text x="34.46" y="34.5" font-size="22.8" fill="#323b49" textLength="18.69" lengthAdjust="spacingAndGlyphs" stroke="#323b49" stroke-width="0.6">O</text>
<text x="155.35" y="34.5" font-size="22.8" fill="#323b49" textLength="17.27" lengthAdjust="spacingAndGlyphs" stroke="#323b49" stroke-width="0.6">H</text>
<text x="274.76" y="34.5" font-size="22.8" fill="#323b49" textLength="39.02" lengthAdjust="spacingAndGlyphs" stroke="#323b49" stroke-width="0.6">Tief</text>
<text x="416.08" y="34.5" font-size="22.8" fill="#323b49" textLength="15.62" lengthAdjust="spacingAndGlyphs" stroke="#323b49" stroke-width="0.6">C</text>
<text x="55.98" y="34.4" font-size="22.8" fill="#f9403c" textLength="83.41" lengthAdjust="spacingAndGlyphs" stroke="#f9403c" stroke-width="1.1">5438.25</text>
<text x="175.66" y="34.4" font-size="22.8" fill="#f9403c" textLength="83.84" lengthAdjust="spacingAndGlyphs" stroke="#f9403c" stroke-width="1.1">5450.75</text>
<text x="316.88" y="34.4" font-size="22.8" fill="#f9403c" textLength="83.85" lengthAdjust="spacingAndGlyphs" stroke="#f9403c" stroke-width="1.1">4680.82</text>
<text x="435.38" y="34.4" font-size="22.8" fill="#f9403c" textLength="84.21" lengthAdjust="spacingAndGlyphs" stroke="#f9403c" stroke-width="1.1">4890.59</text>
</g>
</svg></body></html>
